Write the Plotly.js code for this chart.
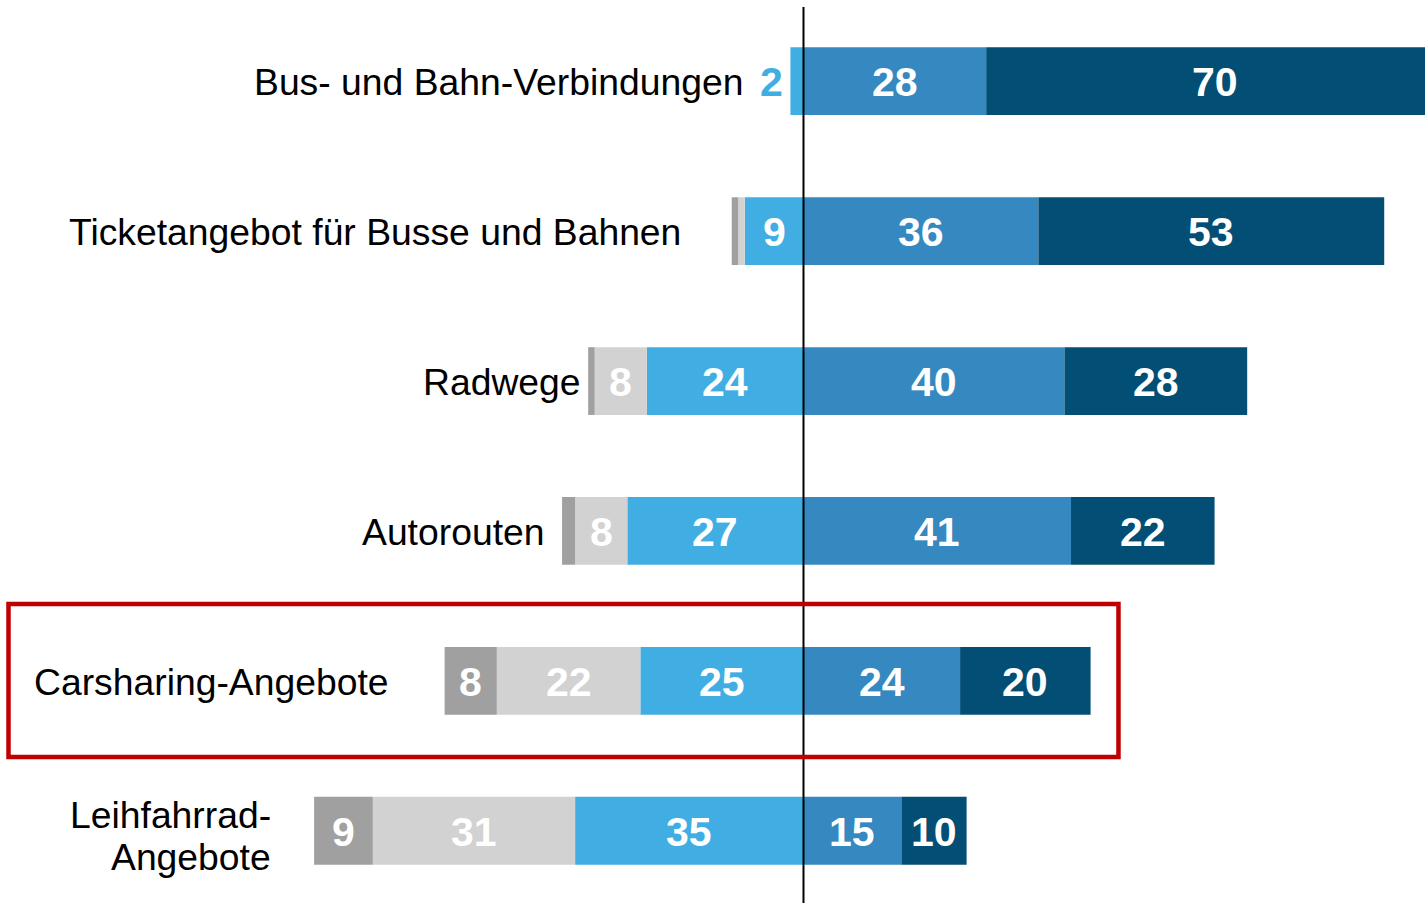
<!DOCTYPE html>
<html>
<head>
<meta charset="utf-8">
<script src="https://cdn.plot.ly/plotly-3.0.1.min.js"></script>
<style>
html,body{margin:0;padding:0;background:#fff;}
#chart{width:1425px;height:903px;}
</style>
</head>
<body>
<div id="chart"></div>
<script>
// ---- data ----
const categories = ['Bus- und Bahn-Verbindungen', 'Ticketangebot für Busse und Bahnen', 'Radwege', 'Autorouten', 'Carsharing-Angebote', 'Leihfahrrad-<br>Angebote'];
const darkGray  = [0, 1, 1, 2, 8, 9];
const lightGray = [0, 1, 8, 8, 22, 31];
const lightBlue = [2, 9, 24, 27, 25, 35];
const midBlue   = [28, 36, 40, 41, 24, 15];
const darkBlue  = [70, 53, 28, 22, 20, 10];

// ---- layout constants ----
const labelGap = [45, 49, 5, 16, 54, 41]; // px gap between category label and bar start
const colors = {darkGray:'#a0a0a0', lightGray:'#d2d2d2', lightBlue:'#41aee3', midBlue:'#3588c0', darkBlue:'#034e74'};
const FONT = 'Liberation Sans, Arial, sans-serif';
const barW = 0.452;
const VAL_SIZE = 41;

const ys = categories.map((c, i) => i);

function barTrace(vals, sign, color) {
  return {
    type: 'bar', orientation: 'h',
    x: vals.map(v => sign * v), y: ys,
    width: barW,
    marker: {color: color, line: {width: 0}},
    hoverinfo: 'skip'
  };
}

const traces = [
  barTrace(lightBlue, -1, colors.lightBlue),
  barTrace(lightGray, -1, colors.lightGray),
  barTrace(darkGray, -1, colors.darkGray),
  barTrace(midBlue, 1, colors.midBlue),
  barTrace(darkBlue, 1, colors.darkBlue)
];

const annotations = [];
ys.forEach(i => {
  let pos = 0;
  [[lightBlue, true], [lightGray, false], [darkGray, false]].forEach(([arr, isNear]) => {
    const v = arr[i];
    const start = pos, end = pos - v;
    if (v >= 3) {
      annotations.push({x: (start + end) / 2, y: i, yshift: -1, text: String(v), showarrow: false,
        font: {family: FONT, size: VAL_SIZE, color: '#ffffff', weight: 'bold'}, xanchor: 'center', yanchor: 'middle'});
    } else if (v > 0 && isNear) {
      annotations.push({x: end, y: i, xshift: -5, yshift: -1, text: String(v), showarrow: false,
        font: {family: FONT, size: VAL_SIZE, color: colors.lightBlue, weight: 'bold'}, xanchor: 'right', yanchor: 'middle'});
    }
    pos = end;
  });
  let p = 0;
  [midBlue, darkBlue].forEach(arr => {
    const v = arr[i];
    if (v >= 3) {
      annotations.push({x: p + v / 2, y: i, yshift: -1, text: String(v), showarrow: false,
        font: {family: FONT, size: VAL_SIZE, color: '#ffffff', weight: 'bold'}, xanchor: 'center', yanchor: 'middle'});
    }
    p += v;
  });
  // category label
  const left = -(lightBlue[i] + lightGray[i] + darkGray[i]);
  const lines = categories[i].split('<br>');
  const lineH = 42;
  const extra = lines.length > 1 ? -5 : -1;
  lines.forEach((ln, k) => {
    annotations.push({x: left, y: i, xshift: -labelGap[i], yshift: -(k - (lines.length - 1) / 2) * lineH + extra,
      text: ln, showarrow: false, xanchor: 'right', yanchor: 'middle', align: 'right',
      font: {family: FONT, size: 37.3, color: '#000000'}});
  });
});

const layout = {
  width: 1425, height: 903,
  margin: {l: 0, r: 0, t: 0, b: 0, pad: 0},
  paper_bgcolor: '#ffffff', plot_bgcolor: '#ffffff',
  barmode: 'relative',
  showlegend: false,
  hovermode: false,
  xaxis: {range: [-123.14, 95.25], visible: false, showgrid: false, zeroline: false, fixedrange: true},
  yaxis: {range: [5.482, -0.542], visible: false, showgrid: false, zeroline: false, fixedrange: true},
  annotations: annotations,
  shapes: [
    {type: 'line', xref: 'x', yref: 'paper', x0: 0, x1: 0, y0: 0, y1: 0.9922, line: {color: '#000000', width: 2}, layer: 'above'},
    {type: 'rect', xref: 'paper', yref: 'paper', x0: 0.00596, x1: 0.7849, y0: 0.1617, y1: 0.3311, line: {color: '#c00000', width: 4.5}, fillcolor: 'rgba(0,0,0,0)', layer: 'above'}
  ]
};

Plotly.newPlot('chart', traces, layout, {displayModeBar: false, staticPlot: true});
</script>
</body>
</html>
